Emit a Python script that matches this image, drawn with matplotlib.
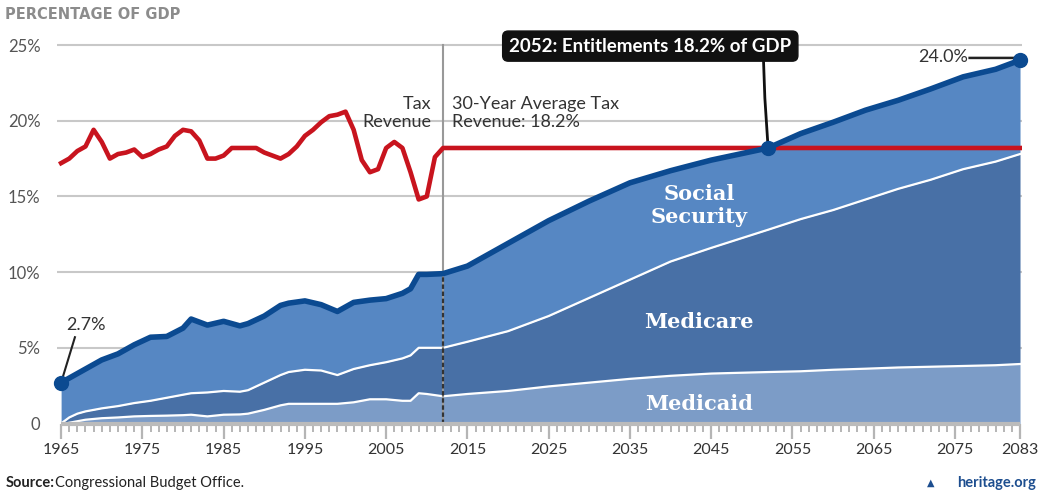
import matplotlib
matplotlib.use("Agg")
import matplotlib.pyplot as plt
import numpy as np

# spending by program, percent of GDP
years = [1965, 1966, 1967, 1968, 1969, 1970, 1972, 1974, 1976, 1978, 1980, 1981,
         1983, 1985, 1987, 1988, 1990, 1992, 1993, 1995, 1997, 1999, 2000, 2001,
         2003, 2005, 2007, 2008, 2009, 2010, 2012, 2015, 2020, 2025, 2030, 2035,
         2040, 2045, 2052, 2056, 2060, 2064, 2068, 2072, 2076, 2080, 2083]
medicaid = [0.0, 0.05, 0.15, 0.25, 0.3, 0.35, 0.4, 0.47, 0.5, 0.52, 0.55, 0.58,
            0.47, 0.58, 0.6, 0.65, 0.9, 1.2, 1.3, 1.3, 1.3, 1.3, 1.35, 1.4,
            1.6, 1.6, 1.5, 1.5, 2.0, 1.95, 1.8, 1.95, 2.15, 2.45, 2.7, 2.95,
            3.15, 3.3, 3.4, 3.45, 3.55, 3.62, 3.7, 3.75, 3.8, 3.85, 3.93]
medicare = [0.0, 0.35, 0.5, 0.55, 0.6, 0.65, 0.75, 0.88, 1.0, 1.18, 1.35, 1.42,
            1.58, 1.57, 1.5, 1.55, 1.8, 2.0, 2.1, 2.25, 2.2, 1.9, 2.05, 2.2,
            2.25, 2.45, 2.8, 3.0, 3.0, 3.05, 3.2, 3.45, 3.95, 4.65, 5.6, 6.55,
            7.55, 8.3, 9.4, 10.05, 10.55, 11.18, 11.8, 12.35, 13.0, 13.45, 13.87]
social_security = [2.7, 2.6, 2.65, 2.8, 3.0, 3.2, 3.45, 3.85, 4.2, 4.05, 4.4, 4.9,
                   4.45, 4.6, 4.35, 4.4, 4.4, 4.6, 4.55, 4.55, 4.35, 4.2, 4.3, 4.4,
                   4.3, 4.2, 4.3, 4.4, 4.85, 4.85, 4.9, 5.0, 5.8, 6.3, 6.4, 6.4,
                   6.0, 5.8, 5.4, 5.65, 5.8, 5.9, 5.85, 6.0, 6.1, 6.1, 6.2]

# tax revenue history, then the 30-year average
tax_years = list(range(1965, 2013)) + [2083]
tax_revenue = [17.2, 17.5, 18.0, 18.3, 19.4, 18.6, 17.5, 17.8, 17.9, 18.1,
               17.6, 17.8, 18.1, 18.3, 19.0, 19.4, 19.3, 18.7, 17.5, 17.5,
               17.7, 18.2, 18.2, 18.2, 18.2, 17.9, 17.7, 17.5, 17.8, 18.3,
               19.0, 19.4, 19.9, 20.3, 20.4, 20.6, 19.4, 17.4, 16.6, 16.8,
               18.2, 18.6, 18.2, 16.6, 14.8, 15.0, 17.6, 18.2, 18.2]

xtick_years = [1965, 1975, 1985, 1995, 2005, 2015, 2025, 2035, 2045, 2055, 2065, 2075, 2083]
ytick_vals = [0, 5, 10, 15, 20, 25]
ytick_labels = ['0', '5%', '10%', '15%', '20%', '25%']

c_ss = '#5687c3'
c_care = '#4870a6'
c_caid = '#7c9cc7'
c_total = '#0b4a91'
c_red = '#c8141e'
txt_font = ['Lato', 'DejaVu Sans']

fig = plt.figure(figsize=(10.41, 4.94), dpi=100)
ax = fig.add_axes([0.0548, 0.1427, 0.927, 0.7753])

lvl1 = np.array(medicaid)
lvl2 = lvl1 + np.array(medicare)
lvl3 = lvl2 + np.array(social_security)

for v in ytick_vals[1:]:
    ax.axhline(v, color='#c8c8c8', lw=1.5, zorder=0)

ax.fill_between(years, 0, lvl1, color=c_caid, lw=0, zorder=1)
ax.fill_between(years, lvl1, lvl2, color=c_care, lw=0, zorder=1)
ax.fill_between(years, lvl2, lvl3, color=c_ss, lw=0, zorder=1)
ax.plot(years[1:], lvl1[1:], color='white', lw=1.6, zorder=2)
ax.plot(years, lvl2, color='white', lw=1.6, zorder=2)

# projection start marker
ax.plot([2012, 2012], [0, 25], color='#999999', lw=1.5, zorder=2)
ax.plot([2012, 2012], [0, 9.9], color='#333333', lw=1.6, dashes=(2, 1.2), zorder=3)

ax.plot(tax_years, tax_revenue, color=c_red, lw=3.3, zorder=4, solid_joinstyle='round')
ax.plot(years, lvl3, color=c_total, lw=4, zorder=5, solid_joinstyle='round')

# end points
ax.plot([1965, 2052, 2083], [2.7, 18.2, 24.0], 'o', color=c_total, ms=10, zorder=7, clip_on=False)
ax.plot([1966.7, 1965], [5.7, 2.7], color='#222222', lw=1.5, zorder=6)
ax.text(1965.6, 6.5, '2.7%', fontsize=13, color='#333333', family=txt_font, va='center', ha='left')
ax.plot([2076.8, 2082.3, 2083], [24.15, 24.15, 24.0], color='#222222', lw=1.8, zorder=6, clip_on=False)
ax.text(2076.6, 24.2, '24.0%', fontsize=13, color='#333333', family=txt_font, va='center', ha='right')

ax.plot([2051.4, 2051.6, 2052], [24.5, 21.5, 18.2], color='#111111', lw=2, zorder=6)
ax.text(2037.5, 24.93, '2052: Entitlements 18.2% of GDP', fontsize=13.5, fontweight='bold',
        color='white', family=txt_font, ha='center', va='center', zorder=8,
        bbox=dict(boxstyle='round,pad=0.35,rounding_size=0.3', fc='#111111', ec='#111111'))

ax.text(2010.6, 20.5, 'Tax\nRevenue', fontsize=13, color='#333333', family=txt_font,
        ha='right', va='center', linespacing=1.15, zorder=6)
ax.text(2013.1, 20.5, '30-Year Average Tax\nRevenue: 18.2%', fontsize=13, color='#333333',
        family=txt_font, ha='left', va='center', linespacing=1.15, zorder=6)

lab = dict(fontsize=15, fontweight='bold', color='white', family='DejaVu Serif',
           ha='center', va='center', zorder=6)
ax.text(2043.5, 14.4, 'Social\nSecurity', linespacing=1.2, **lab)
ax.text(2043.5, 6.7, 'Medicare', **lab)
ax.text(2043.5, 1.3, 'Medicaid', **lab)

ax.set_xlim(1964.5, 2083.25)
ax.set_ylim(0, 25.3)
for s in ['top', 'right', 'left', 'bottom']:
    ax.spines[s].set_visible(False)
ax.plot([1965, 2083], [0, 0], color='#bbbbbb', lw=3, zorder=3, clip_on=False, solid_capstyle='butt')

ax.set_xticks(xtick_years)
ax.set_xticks(range(1965, 2084), minor=True)
ax.tick_params(axis='x', which='major', length=11, width=1.6, color='#b5b5b5',
               labelsize=11.5, labelcolor='#333333', pad=3)
ax.tick_params(axis='x', which='minor', length=6, width=1.4, color='#b5b5b5')
ax.set_yticks(ytick_vals)
ax.set_yticklabels(ytick_labels)
ax.tick_params(axis='y', length=0, labelsize=12, labelcolor='#555555', pad=12)
for t in ax.get_xticklabels() + ax.get_yticklabels():
    t.set_family(txt_font)

fig.text(0.005, 0.97, 'PERCENTAGE OF GDP', fontsize=10.5, fontweight='bold', color='#8c8c8c',
         ha='left', va='center', family='DejaVu Sans')
fig.text(0.005, 0.022, 'Source:', fontsize=10.5, fontweight='bold', color='#222222',
         ha='left', va='center', family=txt_font)
fig.text(0.053, 0.022, 'Congressional Budget Office.', fontsize=10.5, color='#222222',
         ha='left', va='center', family=txt_font)
fig.text(0.995, 0.022, 'heritage.org', fontsize=10.5, fontweight='bold', color='#1d4e8f',
         ha='right', va='center', family=txt_font)
fig.text(0.898, 0.022, '\u25b2', fontsize=7, color='#1d4e8f', ha='right', va='center',
         family='DejaVu Sans')

fig.savefig('out.png', dpi=100)
